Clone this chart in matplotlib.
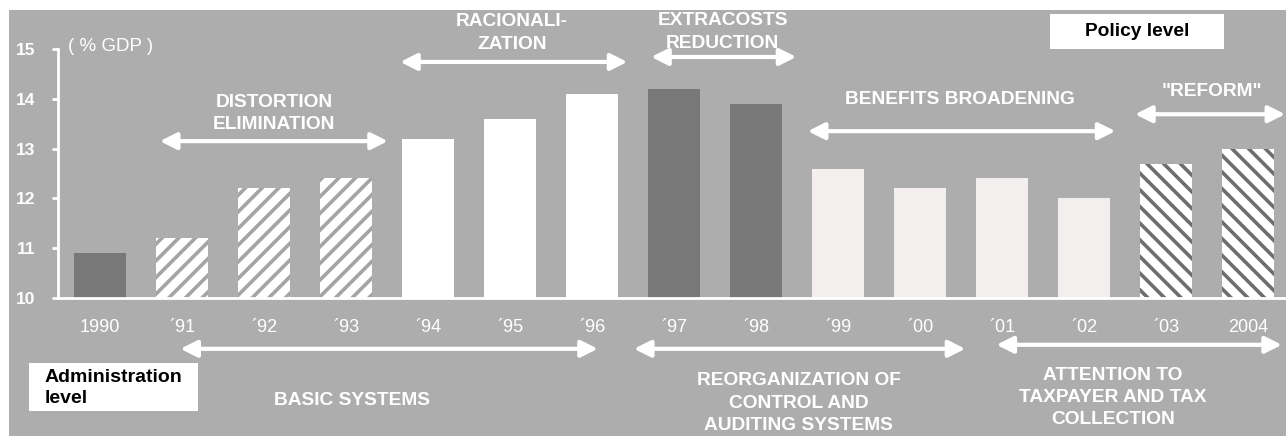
import matplotlib
matplotlib.use("Agg")
import matplotlib.pyplot as plt
from matplotlib.patches import Rectangle

plt.rcParams['font.family'] = ['Liberation Sans', 'DejaVu Sans']
plt.rcParams['hatch.linewidth'] = 2.6

# dados
anos = ['1990', '´91', '´92', '´93', '´94', '´95', '´96', '´97', '´98',
        '´99', '´00', '´01', '´02', '´03', '2004']
valores = [10.9, 11.2, 12.2, 12.4, 13.2, 13.6, 14.1, 14.2, 13.9,
           12.6, 12.2, 12.4, 12.0, 12.7, 13.0]
grupos = ['escuro', 'listra', 'listra', 'listra', 'branco', 'branco', 'branco',
          'escuro', 'escuro', 'claro', 'claro', 'claro', 'claro', 'listra_esc', 'listra_esc']

# fases (inicio, fim em posicao de barra, altura, texto)
fases_politica = [
    (0.73, 3.51, 13.15, 2.12, 13.71, 'DISTORTION\nELIMINATION'),
    (3.66, 6.43, 14.74, 5.02, 15.32, 'RACIONALI-\nZATION'),
    (6.72, 8.49, 14.84, 7.59, 15.34, 'EXTRACOSTS\nREDUCTION'),
    (8.63, 12.38, 13.35, 10.49, 13.98, 'BENEFITS BROADENING'),
    (12.62, 14.45, 13.69, 13.56, 14.14, '"REFORM"'),
]
fases_admin = [
    (0.98, 6.07, 8.98, 3.07, 7.95, 'BASIC SYSTEMS'),
    (6.51, 10.55, 8.98, 8.52, 7.89, 'REORGANIZATION OF\nCONTROL AND\nAUDITING SYSTEMS'),
    (10.93, 14.41, 9.06, 12.35, 8.0, 'ATTENTION TO\nTAXPAYER AND TAX\nCOLLECTION'),
]

estilos = {
    'escuro': dict(color='#787878'),
    'branco': dict(color='white'),
    'claro': dict(color='#F2EFEE'),
    'listra': dict(facecolor='white', edgecolor='#A4A4A4', hatch='//', linewidth=0),
    'listra_esc': dict(facecolor='white', edgecolor='#6E6E6E', hatch='\\\\', linewidth=0),
}

W, H = 1286, 436
fig = plt.figure(figsize=(W / 100, H / 100), dpi=100, facecolor='white')
fig.add_artist(Rectangle((9 / W, 0), 1 - 9 / W, (H - 10) / H, transform=fig.transFigure,
                         facecolor='#ADADAD', edgecolor='none', zorder=-10))

ax = fig.add_axes([58 / W, (H - 298) / H, (W - 58) / W, 249 / H])
ax.set_facecolor('none')

for i, (v, g) in enumerate(zip(valores, grupos)):
    ax.bar(i, v - 10, bottom=10, width=0.63, **estilos[g])

ax.set_xlim(-0.512, 14.46)
ax.set_ylim(10, 15)
ax.set_yticks([10, 11, 12, 13, 14, 15])
ax.set_xticks(range(len(anos)))
ax.set_xticklabels(anos)

for lado in ['top', 'right']:
    ax.spines[lado].set_visible(False)
for lado in ['left', 'bottom']:
    ax.spines[lado].set_color('white')
    ax.spines[lado].set_linewidth(2)

ax.tick_params(axis='y', colors='white', length=4.5, width=2, pad=12, labelsize=12.5)
for t in ax.get_yticklabels():
    t.set_fontweight('bold')
ax.tick_params(axis='x', colors='white', length=0, pad=15, labelsize=13)

ax.text(-0.39, 15.06, '( % GDP )', color='white', fontsize=13.5, va='center', ha='left',
        clip_on=False)

seta = dict(arrowstyle='<|-|>,head_length=1.0,head_width=0.5', color='white', lw=3,
            shrinkA=0, shrinkB=0)

for x0, x1, y, tx, ty, txt in fases_politica + fases_admin:
    ax.annotate('', xy=(x1, y), xytext=(x0, y), arrowprops=seta, annotation_clip=False)
    ax.text(tx, ty, txt, color='white', fontsize=13.8, fontweight='bold', ha='center',
            va='center', linespacing=1.4, clip_on=False)

# caixas
fig.add_artist(Rectangle((1050 / W, 1 - 49 / H), 174 / W, 35 / H, transform=fig.transFigure,
                         facecolor='white', edgecolor='none'))
fig.text(1137 / W, 1 - 31 / H, 'Policy level', color='black', fontsize=13.8, fontweight='bold',
         ha='center', va='center')
fig.add_artist(Rectangle((29 / W, 1 - 411 / H), 169 / W, 48 / H, transform=fig.transFigure,
                         facecolor='white', edgecolor='none'))
fig.text(45 / W, 1 - 388 / H, 'Administration\nlevel', color='black', fontsize=14,
         fontweight='bold', ha='left', va='center', linespacing=1.25)

fig.savefig('out.png', dpi=100, facecolor='white')
